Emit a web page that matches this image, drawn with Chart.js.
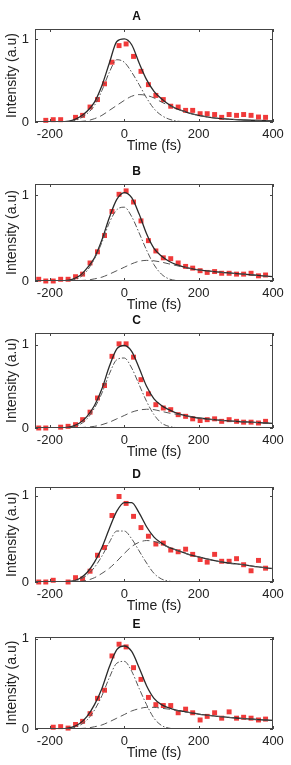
<!DOCTYPE html>
<html>
<head>
<meta charset="utf-8">
<script src="https://cdn.jsdelivr.net/npm/chart.js@4.4.0/dist/chart.umd.min.js"></script>
<style>
  body { margin: 0; background: #fff; }
  .panel { position: absolute; left: 0; }
</style>
</head>
<body>
<div class="panel" id="pA"><canvas id="chartA"></canvas></div>
<div class="panel" id="pB"><canvas id="chartB"></canvas></div>
<div class="panel" id="pC"><canvas id="chartC"></canvas></div>
<div class="panel" id="pD"><canvas id="chartD"></canvas></div>
<div class="panel" id="pE"><canvas id="chartE"></canvas></div>
<script>
// time grids (fs)
const dotTime = [-230, -211, -191, -171, -151, -131, -112, -92, -72, -53, -33, -14, 5, 25, 45, 65,
    85, 105, 125, 145, 165, 184, 204, 223, 243, 262, 282, 302, 321, 341, 361, 380];
const fitTime = [-240, -200, -160, -140, -120, -100, -80, -60, -40, -20, 0, 20, 40, 60, 80, 100,
    120, 140, 160, 180, 200, 240, 280, 320, 360, 400];
const xTicks = [-200, 0, 200, 400];
const yTicks = [0, 1];

// measured points
const dotsA = [null, 0.02, 0.028, 0.028, null, 0.056, 0.08, 0.18, 0.27, 0.46, 0.72, 0.92, 0.94, 0.79, 0.61, 0.45,
    0.32, 0.27, 0.19, 0.18, 0.14, 0.14, 0.10, 0.10, 0.09, 0.056, 0.09, 0.08, 0.09, 0.08, 0.06, 0.056];
const dotsB = [0.02, 0, 0, 0.02, 0.02, 0.05, 0.08, 0.21, 0.34, 0.53, 0.81, 1.01, 1.05, 0.92, 0.70, 0.47,
    0.35, 0.27, 0.26, 0.21, 0.17, 0.15, 0.12, 0.10, 0.11, 0.09, 0.09, 0.08, 0.08, 0.09, 0.06, 0.07];
const dotsC = [0, 0, null, 0.01, 0.02, 0.04, 0.10, 0.19, 0.36, 0.51, 0.86, 1.01, 1.01, 0.85, 0.58, 0.41,
    0.28, 0.24, 0.22, 0.16, 0.14, 0.11, 0.09, 0.10, 0.11, 0.08, 0.10, 0.08, 0.07, 0.07, 0.06, 0.08];
const dotsD = [0, 0, 0.02, null, 0, 0.05, 0.035, 0.125, 0.31, 0.40, 0.77, 0.99, 0.91, 0.76, 0.63, 0.53,
    0.44, 0.45, 0.37, 0.35, 0.38, 0.32, 0.26, 0.23, 0.32, 0.24, 0.24, 0.27, 0.20, 0.13, 0.25, 0.16];
const dotsE = [null, null, 0.02, 0.026, 0.01, 0.05, 0.085, 0.17, 0.34, 0.43, 0.81, 0.94, 0.91, 0.68, 0.55, 0.35,
    0.27, 0.26, 0.26, 0.18, 0.22, 0.18, 0.10, 0.14, 0.18, 0.12, 0.19, 0.12, 0.13, 0.12, 0.10, 0.11];

// total fit (solid)
const fitA = [0, 0, 0.005, 0.02, 0.06, 0.13, 0.24, 0.44, 0.71, 0.97, 1.0, 0.93, 0.71, 0.51, 0.37, 0.28,
    0.21, 0.16, 0.13, 0.1, 0.08, 0.05, 0.035, 0.024, 0.018, 0.015];
const fitB = [0, 0, 0.005, 0.02, 0.06, 0.15, 0.27, 0.48, 0.74, 0.95, 1.03, 0.97, 0.78, 0.55, 0.38, 0.29,
    0.23, 0.19, 0.165, 0.145, 0.13, 0.11, 0.094, 0.08, 0.065, 0.05];
const fitC = [0, 0, 0.005, 0.02, 0.06, 0.14, 0.27, 0.47, 0.74, 0.95, 0.99, 0.92, 0.72, 0.5, 0.35, 0.27,
    0.22, 0.18, 0.155, 0.135, 0.12, 0.1, 0.085, 0.075, 0.065, 0.055];
const fitD = [0, 0, 0.003, 0.01, 0.04, 0.11, 0.23, 0.4, 0.62, 0.82, 0.92, 0.92, 0.8, 0.64, 0.52, 0.45,
    0.4, 0.37, 0.34, 0.31, 0.29, 0.25, 0.22, 0.2, 0.175, 0.155];
const fitE = [0, 0, 0.005, 0.02, 0.06, 0.14, 0.27, 0.45, 0.69, 0.88, 0.92, 0.86, 0.68, 0.48, 0.34, 0.27,
    0.235, 0.21, 0.195, 0.18, 0.165, 0.145, 0.13, 0.115, 0.105, 0.095];

// fast component (dash-dot)
const fastA = [0, 0, 0, 0.01, 0.04, 0.1, 0.2, 0.38, 0.6, 0.75, 0.72, 0.6, 0.45, 0.29, 0.16, 0.08,
    0.035, 0.012, 0.003, 0, 0, 0, 0, 0, 0, 0];
const fastB = [0, 0, 0, 0.01, 0.04, 0.12, 0.26, 0.45, 0.68, 0.83, 0.86, 0.75, 0.56, 0.36, 0.19, 0.08,
    0.025, 0.006, 0, 0, 0, 0, 0, 0, 0, 0];
const fastC = [0, 0, 0, 0.01, 0.04, 0.11, 0.24, 0.42, 0.65, 0.82, 0.84, 0.72, 0.52, 0.32, 0.16, 0.06,
    0.02, 0.005, 0, 0, 0, 0, 0, 0, 0, 0];
const fastD = [0, 0, 0, 0.01, 0.03, 0.08, 0.17, 0.3, 0.46, 0.59, 0.59, 0.5, 0.36, 0.22, 0.1, 0.035,
    0.01, 0, 0, 0, 0, 0, 0, 0, 0, 0];
const fastE = [0, 0, 0, 0.01, 0.04, 0.1, 0.21, 0.37, 0.57, 0.73, 0.75, 0.64, 0.45, 0.27, 0.12, 0.04,
    0.01, 0, 0, 0, 0, 0, 0, 0, 0, 0];

// slow component (dashed)
const slowA = [0, 0, 0, 0, 0.005, 0.015, 0.04, 0.08, 0.14, 0.2, 0.26, 0.31, 0.33, 0.32, 0.29, 0.24,
    0.2, 0.16, 0.13, 0.1, 0.08, 0.05, 0.035, 0.024, 0.018, 0.015];
const slowB = [0, 0, 0, 0, 0.005, 0.01, 0.025, 0.045, 0.08, 0.12, 0.16, 0.2, 0.23, 0.24, 0.235, 0.22,
    0.2, 0.18, 0.16, 0.145, 0.13, 0.11, 0.094, 0.08, 0.065, 0.05];
const slowC = [0, 0, 0, 0, 0.004, 0.01, 0.02, 0.04, 0.07, 0.11, 0.15, 0.19, 0.215, 0.225, 0.22, 0.2,
    0.18, 0.165, 0.15, 0.135, 0.12, 0.1, 0.085, 0.075, 0.065, 0.055];
const slowD = [0, 0, 0, 0, 0.005, 0.02, 0.05, 0.1, 0.16, 0.24, 0.33, 0.41, 0.46, 0.48, 0.47, 0.44,
    0.4, 0.37, 0.34, 0.31, 0.29, 0.25, 0.22, 0.2, 0.175, 0.155];
const slowE = [0, 0, 0, 0, 0.005, 0.01, 0.025, 0.045, 0.08, 0.12, 0.16, 0.2, 0.225, 0.24, 0.24, 0.23,
    0.22, 0.205, 0.19, 0.18, 0.165, 0.145, 0.13, 0.115, 0.105, 0.095];

Chart.defaults.font.family = '"Liberation Sans", Arial, sans-serif';
Chart.defaults.color = '#222';

const toXY = (xs, ys) => xs.map((x, i) => ({ x: x, y: ys[i] })).filter(p => p.y !== null);

// frame around plot with inward ticks, like the original figure
const framePlugin = {
    id: 'frame',
    afterDatasetsDraw(chart) {
        const { ctx, chartArea: a, scales: { x, y } } = chart;
        ctx.save();
        ctx.strokeStyle = '#444';
        ctx.lineWidth = 1;
        ctx.strokeRect(Math.round(a.left) + 0.5, Math.round(a.top) + 0.5,
            Math.round(a.width) - 1, Math.round(a.height) - 1);
        ctx.beginPath();
        xTicks.forEach(v => {
            const px = Math.round(x.getPixelForValue(v)) + 0.5;
            ctx.moveTo(px, a.bottom); ctx.lineTo(px, a.bottom - 3);
            ctx.moveTo(px, a.top); ctx.lineTo(px, a.top + 3);
        });
        yTicks.forEach(v => {
            const py = Math.round(y.getPixelForValue(v)) + 0.5;
            ctx.moveTo(a.left, py); ctx.lineTo(a.left + 3, py);
            ctx.moveTo(a.right, py); ctx.lineTo(a.right - 3, py);
        });
        ctx.stroke();
        ctx.restore();
    }
};

function makePanel(id, label, plotTop, plotBottom, yMax, dots, fit, fast, slow) {
    const canvasTop = plotTop - 22;
    const h = plotBottom - plotTop + 22 + 34;
    const box = document.getElementById('p' + label);
    box.style.top = canvasTop + 'px';
    const cv = document.getElementById(id);
    cv.width = 291;
    cv.height = h;
    new Chart(cv.getContext('2d'), {
        type: 'scatter',
        data: {
            datasets: [
                {
                    data: toXY(fitTime, slow),
                    showLine: true, pointRadius: 0,
                    borderColor: '#555', borderWidth: 1, borderDash: [7, 4],
                    cubicInterpolationMode: 'monotone'
                },
                {
                    data: toXY(fitTime, fast),
                    showLine: true, pointRadius: 0,
                    borderColor: '#555', borderWidth: 1, borderDash: [6, 2, 1.5, 2],
                    cubicInterpolationMode: 'monotone'
                },
                {
                    data: toXY(fitTime, fit),
                    showLine: true, pointRadius: 0,
                    borderColor: '#2a2a2a', borderWidth: 1.3,
                    cubicInterpolationMode: 'monotone'
                },
                {
                    data: toXY(dotTime, dots),
                    pointStyle: 'rect', pointRadius: 3.5,
                    backgroundColor: 'rgb(240,58,58)', borderWidth: 0,
                    clip: 5
                }
            ]
        },
        options: {
            responsive: false,
            animation: false,
            layout: { padding: { left: 0, right: 18, top: 0, bottom: 0 } },
            plugins: {
                legend: { display: false },
                tooltip: { enabled: false },
                title: {
                    display: true, text: label, color: '#111',
                    font: { size: 12, weight: 'bold' },
                    padding: { top: 2, bottom: 5.6 }
                }
            },
            scales: {
                x: {
                    type: 'linear', min: -240, max: 400,
                    afterBuildTicks: s => { s.ticks = xTicks.map(v => ({ value: v })); },
                    afterFit: s => { s.height = 34; },
                    grid: { display: false, drawTicks: false },
                    border: { display: false },
                    ticks: { padding: 5, font: { size: 13 }, color: '#222' },
                    title: {
                        display: true, text: 'Time (fs)', color: '#222',
                        font: { size: 14 }, padding: { top: 0, bottom: 1 }
                    }
                },
                y: {
                    type: 'linear', min: 0, max: yMax,
                    afterBuildTicks: s => { s.ticks = yTicks.map(v => ({ value: v })); },
                    afterFit: s => { s.width = 35; },
                    grid: { display: false, drawTicks: false },
                    border: { display: false },
                    ticks: { padding: 6, font: { size: 13 }, color: '#222' },
                    title: {
                        display: true, text: 'Intensity (a.u)', color: '#222',
                        font: { size: 14 }, padding: { top: 4, bottom: 0 }
                    }
                }
            }
        },
        plugins: [framePlugin]
    });
}

makePanel('chartA', 'A', 29, 122, 1.12, dotsA, fitA, fastA, slowA);
makePanel('chartB', 'B', 184, 281, 1.13, dotsB, fitB, fastB, slowB);
makePanel('chartC', 'C', 333, 428, 1.14, dotsC, fitC, fastC, slowC);
makePanel('chartD', 'D', 487, 582, 1.10, dotsD, fitD, fastD, slowD);
makePanel('chartE', 'E', 637, 729, 1.02, dotsE, fitE, fastE, slowE);
</script>
</body>
</html>
